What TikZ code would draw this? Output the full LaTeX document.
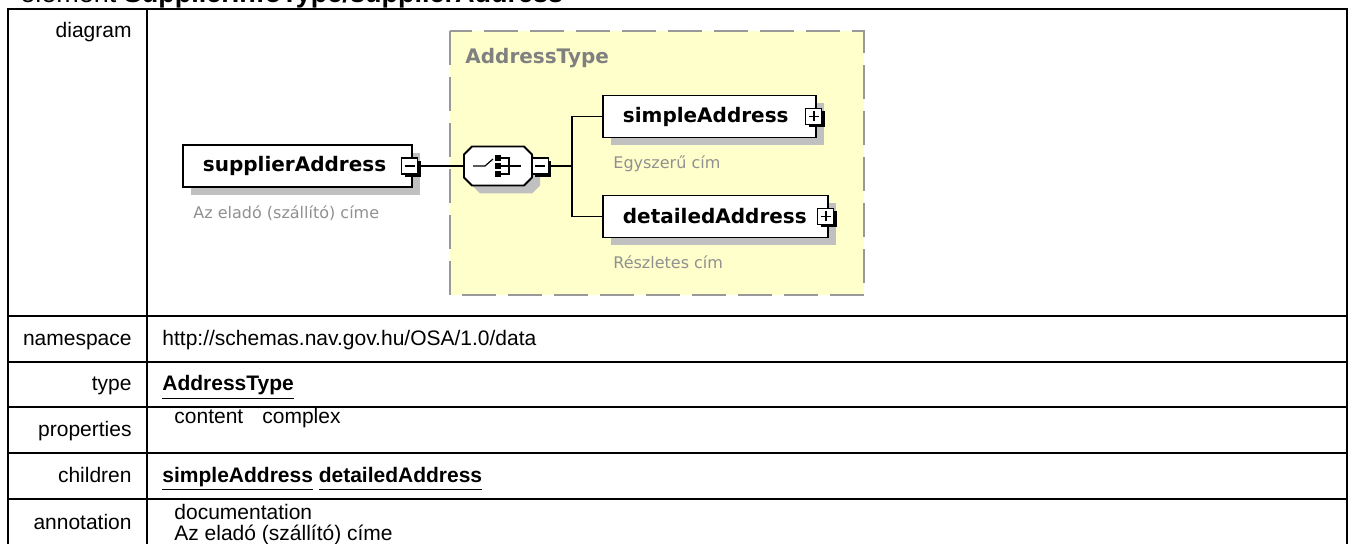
\documentclass[tikz,border=0pt]{standalone}
\usepackage{fontspec}
\setmainfont{Liberation Sans}
\newfontfamily\diagfamily{DejaVu Sans}
\usetikzlibrary{positioning, shadows}
\definecolor{typeyellow}{HTML}{FFFFCC}
\definecolor{shadowgray}{HTML}{C0C0C0}
\definecolor{docgray}{HTML}{909090}
\definecolor{typegray}{HTML}{808080}
\definecolor{dashgray}{HTML}{999999}
\newcommand{\tabfont}{\fontsize{10.5}{12.6}\selectfont}
\newcommand{\reflink}[1]{\underline{\textbf{#1}\vphantom{p}}}
\tikzset{
	tabtext/.style={font=\tabfont, inner sep=0pt},
	tableline/.style={line width=1.2pt},
	elembox/.style={draw, line width=0.9pt, fill=white, font=\diagfamily\bfseries\fontsize{10}{12}\selectfont,
		text width=#1, align=left, inner xsep=10pt, inner ysep=0pt, minimum height=21pt,
		general shadow={fill=shadowgray, shadow xshift=4pt, shadow yshift=-4pt}},
	doctext/.style={font=\diagfamily\fontsize{8}{10}\selectfont, text=docgray, inner sep=0pt, anchor=west},
	typebox/.style={fill=typeyellow, draw=dashgray, line width=1pt, dash pattern=on 17pt off 6pt},
	typelabel/.style={font=\diagfamily\bfseries\fontsize{10}{12}\selectfont, text=typegray, anchor=west, inner sep=0pt},
	expander/.style={draw, line width=0.6pt, fill=white, minimum size=8pt, inner sep=0pt,
		general shadow={fill=black, shadow xshift=1.5pt, shadow yshift=-1.5pt}},
	minusbox/.style={expander, path picture={
		\draw[line width=0.8pt] ([xshift=1.5pt]path picture bounding box.west) -- ([xshift=-1.5pt]path picture bounding box.east);}},
	plusbox/.style={expander, path picture={
		\draw[line width=0.8pt] ([xshift=1.5pt]path picture bounding box.west) -- ([xshift=-1.5pt]path picture bounding box.east);
		\draw[line width=0.8pt] ([yshift=-1.5pt]path picture bounding box.north) -- ([yshift=1.5pt]path picture bounding box.south);}},
	seqnode/.style={minimum width=34pt, minimum height=19.5pt, inner sep=0pt},
	conn/.style={line width=0.9pt}
}

\begin{document}
\begin{tikzpicture}[x=0.5pt, y=-0.5pt]
	\useasboundingbox (0,0) rectangle (1349,544);

	% heading (cut by the top edge)
	\node[font=\fontsize{13.5}{16}\selectfont, anchor=base west, inner sep=0pt] (heading) at (20,3)
		{element \textbf{SupplierInfoType/supplierAddress}};

	% table frame
	\draw[tableline] (8,560) -- (8,9) -- (1347,9) -- (1347,560);
	\draw[tableline] (147,9) -- (147,560);
	\foreach \y in {316,362,407,453,499}
		\draw[tableline] (8,\y) -- (1347,\y);

	% row labels
	\foreach \lbl/\y in {diagram/38, namespace/345.5, type/391, properties/436.5, children/482.5, annotation/530}
		\node[tabtext, anchor=base east] (lbl-\lbl) at (132,\y) {\lbl};

	% cell values
	\node[tabtext, anchor=base west] (nsval) at (162,345.5) {http://schemas.nav.gov.hu/OSA/1.0/data};
	\node[tabtext, anchor=base west] (typeval) at (162,391) {\reflink{AddressType}};
	\node[tabtext, anchor=base west] (propkey) at (174,424) {content};
	\node[tabtext, anchor=base west] (propval) at (262,424) {complex};
	\node[tabtext, anchor=base west] (childval) at (162,482.5) {\reflink{simpleAddress} \reflink{detailedAddress}};
	\node[tabtext, anchor=base west] (annkey) at (174,520) {documentation};
	\node[tabtext, anchor=base west] (annval) at (174,541) {Az eladó (szállító) címe};

	% complex type area
	\draw[typebox] (450,31) rectangle (864,295);
	\node[typelabel] (typename) at (465,58) {AddressType};

	% element boxes
	\node[elembox=94.5pt, anchor=west] (supplier) at (182,166) {supplierAddress};
	\node[elembox=86.5pt, anchor=west] (simple) at (602,116.5) {simpleAddress};
	\node[elembox=92.5pt, anchor=west] (detailed) at (602,216.5) {detailedAddress};

	\node[minusbox] (supplierminus) at ([xshift=-1.5pt]supplier.east) {};
	\node[plusbox] (simpleplus) at ([xshift=-1.5pt]simple.east) {};
	\node[plusbox] (detailedplus) at ([xshift=-1.5pt]detailed.east) {};

	\node[doctext] (supplierdoc) at ([xshift=5.5pt,yshift=-12.5pt]supplier.south west) {Az eladó (szállító) címe};
	\node[doctext] (simpledoc) at ([xshift=5.5pt,yshift=-12.5pt]simple.south west) {Egyszerű cím};
	\node[doctext] (detaileddoc) at ([xshift=5.5pt,yshift=-12pt]detailed.south west) {Részletes cím};

	% sequence compositor
	\node[seqnode] (seq) at (498,166) {};
	\begin{scope}[shift={(seq.center)}]
		\fill[shadowgray] (-18,-11.5) -- (34,-11.5) -- (42,-3.5) -- (42,19.5) -- (34,27.5) -- (-18,27.5) -- (-26,19.5) -- (-26,-3.5) -- cycle;
		\filldraw[fill=white, line width=0.9pt] (-26,-19.5) -- (26,-19.5) -- (34,-11.5) -- (34,11.5) -- (26,19.5) -- (-26,19.5) -- (-34,11.5) -- (-34,-11.5) -- cycle;
		% switch, dots and bracket
		\draw[line width=0.6pt] (-25,0) -- (-13,0) -- (-5,-7);
		\foreach \dy in {-8,0,8}
			\fill (-3,\dy-3) rectangle (3,\dy+3);
		\draw[line width=0.6pt] (3,-8) -- (11,-8) -- (11,8) -- (3,8) (3,0) -- (23,0);
	\end{scope}
	\node[minusbox] (seqminus) at ([xshift=4pt]seq.east) {};

	% connectors
	\coordinate (bus) at (572,166);
	\draw[conn] (supplierminus) -- (seq);
	\draw[conn] (seqminus) -- (bus);
	\draw[conn] (simple.west) -| (bus) |- (detailed.west);
\end{tikzpicture}
\end{document}
